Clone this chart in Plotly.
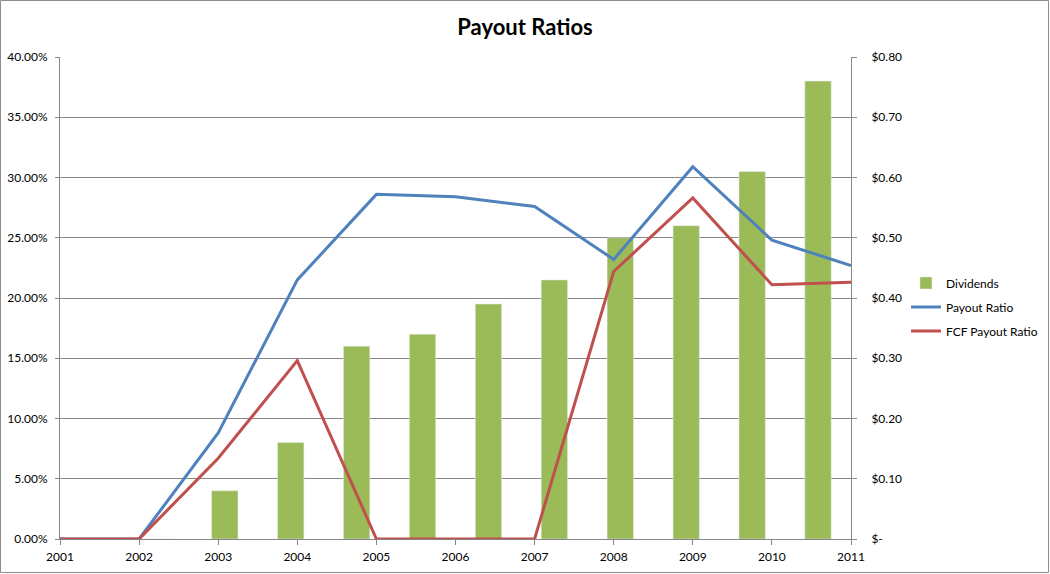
import plotly.graph_objects as go

# ---- data ----
years = [2001, 2002, 2003, 2004, 2005, 2006, 2007, 2008, 2009, 2010, 2011]
payout_ratio = [0.0, 0.0, 0.088, 0.215, 0.286, 0.284, 0.276, 0.232, 0.309, 0.248, 0.227]
fcf_payout_ratio = [0.0, 0.0, 0.067, 0.148, 0.0, 0.0, 0.0, 0.222, 0.283, 0.211, 0.213]
# dividends are drawn on a 12-slot category axis (as in the source chart)
div_slots = [0, 1, 2, 3, 4, 5, 6, 7, 8, 9, 10, 11]
dividends = [0.0, 0.0, 0.08, 0.16, 0.32, 0.34, 0.39, 0.43, 0.50, 0.52, 0.61, 0.76]
pct_ticks = [0, 0.05, 0.10, 0.15, 0.20, 0.25, 0.30, 0.35, 0.40]
usd_ticks = [0, 0.1, 0.2, 0.3, 0.4, 0.5, 0.6, 0.7, 0.8]
usd_labels = ["$-", "$0.10", "$0.20", "$0.30", "$0.40", "$0.50", "$0.60", "$0.70", "$0.80"]

GREEN = "#9BBB59"
BLUE = "#4F81BD"
RED = "#C0504D"
GRID = "#868686"
FONT = "Lato"

W, H = 1050, 574
ML, MR, MT, MB = 60, 199, 57, 35
PW, PH = W - ML - MR, H - MT - MB

fig = go.Figure()
fig.add_trace(go.Bar(x=div_slots, y=dividends, name="Dividends", marker_color=GREEN,
                     width=0.4, xaxis="x", yaxis="y", legendgroup="a"))
fig.add_trace(go.Scatter(x=years, y=payout_ratio, name="Payout Ratio", mode="lines",
                         line=dict(color=BLUE, width=3), xaxis="x2", yaxis="y2", legendgroup="b"))
fig.add_trace(go.Scatter(x=years, y=fcf_payout_ratio, name="FCF Payout Ratio", mode="lines",
                         line=dict(color=RED, width=3), xaxis="x2", yaxis="y2", legendgroup="c"))

fig.update_layout(
    width=W, height=H, autosize=False,
    margin=dict(l=ML, r=MR, t=MT, b=MB, pad=0, autoexpand=False),
    paper_bgcolor="white", plot_bgcolor="white",
    font=dict(family=FONT, size=12, color="#000000"),
    title=dict(text="<b>Payout Ratios</b>", x=0.5, xanchor="center", xref="container",
               y=1 - 27 / H, yanchor="middle", yref="container",
               font=dict(family=FONT, size=22, color="#000000")),
    showlegend=True,
    legend=dict(x=(906 - ML) / PW, xanchor="left",
                y=(H - MB - 307) / PH, yanchor="middle",
                font=dict(family=FONT, size=12), traceorder="grouped", tracegroupgap=5,
                bgcolor="rgba(0,0,0,0)"),
    xaxis=dict(range=[-0.5, 11.5], visible=False, fixedrange=True),
    yaxis=dict(range=[0, 0.8], side="right", tickvals=usd_ticks, ticktext=usd_labels,
               showgrid=True, gridcolor=GRID, gridwidth=1, showline=True, linecolor=GRID,
               linewidth=1, ticks="outside", ticklen=5, tickcolor=GRID, zeroline=False,
               tickfont=dict(family=FONT, size=12), ticklabelstandoff=12),
    xaxis2=dict(range=[2001, 2011], overlaying="x", anchor="y2", side="bottom",
                tickvals=years, ticktext=[str(y) for y in years], showgrid=False,
                showline=True, linecolor=GRID, linewidth=1, ticks="outside", ticklen=5,
                tickcolor=GRID, zeroline=False, tickfont=dict(family=FONT, size=12),
                ticklabelstandoff=2),
    yaxis2=dict(range=[0, 0.4], overlaying="y", anchor="x2", side="left",
                tickvals=pct_ticks, tickformat=".2%", showgrid=False, showline=True,
                linecolor=GRID, linewidth=1, ticks="outside", ticklen=4, tickcolor=GRID,
                zeroline=False, tickfont=dict(family=FONT, size=12), ticklabelstandoff=5),
    bargap=0.6,
)

# outer chart frame
fig.add_shape(type="rect", xref="paper", yref="paper",
              x0=(0.5 - ML) / PW, x1=(W - 1.5 - ML) / PW,
              y0=-(MB - 1.5) / PH, y1=1 + (MT - 0.5) / PH,
              line=dict(color="#8C8C8C", width=1), fillcolor="rgba(0,0,0,0)", layer="below")

fig.write_html("out.html", config={"responsive": False})
